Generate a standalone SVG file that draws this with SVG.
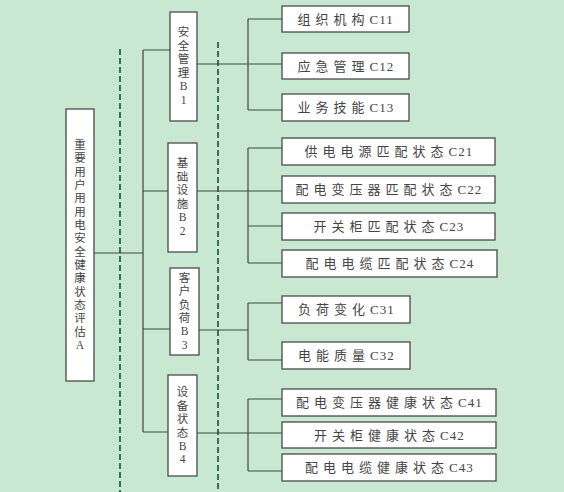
<svg xmlns="http://www.w3.org/2000/svg" width="564" height="492" viewBox="0 0 564 492">
<style>
.bg{fill:#c8e8d1}
.box{fill:#ffffff;stroke:#4a4a4a;stroke-width:1.3}
.ln{fill:none;stroke:#3a4a3e;stroke-width:1.2}
.dash{fill:none;stroke:#1f4f2c;stroke-width:1.6;stroke-dasharray:6,3}
text{font-family:"Liberation Serif","Noto Sans CJK SC",serif;font-size:13px;fill:#454545}
.v{text-anchor:middle;font-size:11.5px}
.cj{letter-spacing:5px}
.la{letter-spacing:1px}
</style>
<rect class="bg" x="0" y="0" width="564" height="492"/>
<g id="guides">
<line class="dash" x1="120" y1="49" x2="120" y2="492"/>
<line class="dash" x1="218" y1="42" x2="218" y2="492"/>
</g>
<g id="connectors">
<path class="ln" d="M94 253H143M143 50V432M143 50H170M143 191H168M143 329H170M143 432H168"/>
<path class="ln" d="M197 64H282M248 19V110M248 19H282M248 110H282"/>
<path class="ln" d="M197 191H282M248 148V263M248 148H282M248 226H282M248 263H282"/>
<path class="ln" d="M199 330H248M248 303V360M248 303H282M248 360H282"/>
<path class="ln" d="M197 433H282M248 399V471M248 399H282M248 471H282"/>
</g>
<g id="A">
<rect class="box" x="66" y="109" width="28" height="272"/>
<text class="v"><tspan x="80" y="149">重</tspan><tspan x="80" y="162">要</tspan><tspan x="80" y="176">用</tspan><tspan x="80" y="189">户</tspan><tspan x="80" y="202">用</tspan><tspan x="80" y="216">用</tspan><tspan x="80" y="229">电</tspan><tspan x="80" y="242">安</tspan><tspan x="80" y="256">全</tspan><tspan x="80" y="269">健</tspan><tspan x="80" y="282">康</tspan><tspan x="80" y="296">状</tspan><tspan x="80" y="309">态</tspan><tspan x="80" y="322">评</tspan><tspan x="80" y="336">估</tspan><tspan x="80" y="349">A</tspan></text>
</g>
<g id="B1">
<rect class="box" x="170" y="12" width="27" height="109"/>
<text class="v"><tspan x="183.5" y="36">安</tspan><tspan x="183.5" y="50">全</tspan><tspan x="183.5" y="63">管</tspan><tspan x="183.5" y="77">理</tspan><tspan x="183.5" y="90">B</tspan><tspan x="183.5" y="104">1</tspan></text>
</g>
<g id="B2">
<rect class="box" x="168" y="143" width="29" height="109"/>
<text class="v"><tspan x="182.5" y="167">基</tspan><tspan x="182.5" y="181">础</tspan><tspan x="182.5" y="194">设</tspan><tspan x="182.5" y="208">施</tspan><tspan x="182.5" y="221">B</tspan><tspan x="182.5" y="235">2</tspan></text>
</g>
<g id="B3">
<rect class="box" x="170" y="268" width="29" height="87"/>
<text class="v"><tspan x="184.5" y="282">客</tspan><tspan x="184.5" y="295">户</tspan><tspan x="184.5" y="309">负</tspan><tspan x="184.5" y="322">荷</tspan><tspan x="184.5" y="335">B</tspan><tspan x="184.5" y="349">3</tspan></text>
</g>
<g id="B4">
<rect class="box" x="168" y="375" width="29" height="101"/>
<text class="v"><tspan x="182.5" y="396">设</tspan><tspan x="182.5" y="410">备</tspan><tspan x="182.5" y="423">状</tspan><tspan x="182.5" y="437">态</tspan><tspan x="182.5" y="450">B</tspan><tspan x="182.5" y="463">4</tspan></text>
</g>
<g id="C11"><rect class="box" x="282" y="6" width="127" height="26"/><text x="297.5" y="23.5"><tspan class="cj">组织机构</tspan><tspan class="la">C11</tspan></text></g>
<g id="C12"><rect class="box" x="282" y="53" width="127" height="26"/><text x="297.5" y="70.5"><tspan class="cj">应急管理</tspan><tspan class="la">C12</tspan></text></g>
<g id="C13"><rect class="box" x="282" y="94" width="127" height="27"/><text x="297.5" y="112"><tspan class="cj">业务技能</tspan><tspan class="la">C13</tspan></text></g>
<g id="C21"><rect class="box" x="282" y="138" width="213" height="27"/><text x="304.5" y="156"><tspan class="cj">供电电源匹配状态</tspan><tspan class="la">C21</tspan></text></g>
<g id="C22"><rect class="box" x="282" y="176" width="213" height="27"/><text x="295.5" y="194"><tspan class="cj">配电变压器匹配状态</tspan><tspan class="la">C22</tspan></text></g>
<g id="C23"><rect class="box" x="282" y="213" width="213" height="27"/><text x="313.5" y="231"><tspan class="cj">开关柜匹配状态</tspan><tspan class="la">C23</tspan></text></g>
<g id="C24"><rect class="box" x="282" y="250" width="215" height="27"/><text x="305.5" y="268"><tspan class="cj">配电电缆匹配状态</tspan><tspan class="la">C24</tspan></text></g>
<g id="C31"><rect class="box" x="282" y="296" width="128" height="27"/><text x="298" y="314"><tspan class="cj">负荷变化</tspan><tspan class="la">C31</tspan></text></g>
<g id="C32"><rect class="box" x="282" y="342" width="128" height="27"/><text x="298" y="360"><tspan class="cj">电能质量</tspan><tspan class="la">C32</tspan></text></g>
<g id="C41"><rect class="box" x="282" y="389" width="214" height="27"/><text x="296" y="407"><tspan class="cj">配电变压器健康状态</tspan><tspan class="la">C41</tspan></text></g>
<g id="C42"><rect class="box" x="282" y="422" width="214" height="26"/><text x="314" y="439.5"><tspan class="cj">开关柜健康状态</tspan><tspan class="la">C42</tspan></text></g>
<g id="C43"><rect class="box" x="282" y="454" width="214" height="27"/><text x="305" y="472"><tspan class="cj">配电电缆健康状态</tspan><tspan class="la">C43</tspan></text></g>
</svg>
